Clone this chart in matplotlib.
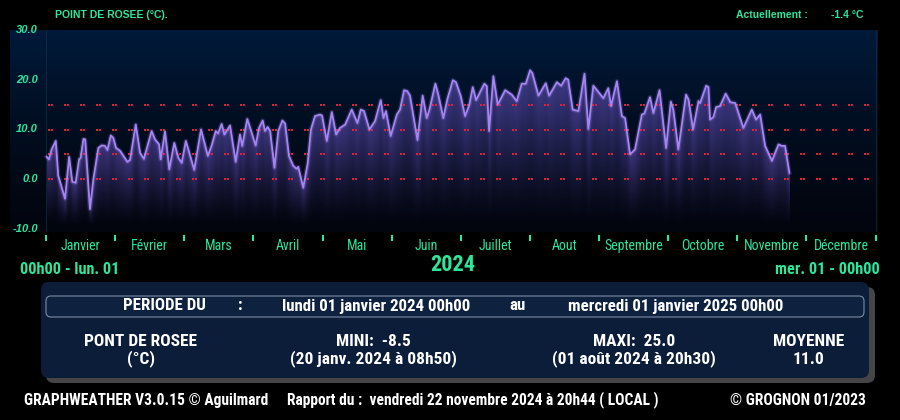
import numpy as np
import matplotlib
matplotlib.use("Agg")
import matplotlib.pyplot as plt
import matplotlib.transforms as mtransforms
from matplotlib import font_manager as fm
from matplotlib.patches import FancyBboxPatch

# ---------------- data ----------------
day = [0.3, 1.3, 2.5, 4.3, 5.4, 8.4, 10.2, 11.6, 13.1, 14.6, 15.3, 16.5, 17.3, 19.4, 20.9,
       23.1, 24.6, 26.0, 27.1, 28.6, 29.7, 30.9, 32.7, 35.9, 37.1, 39.6, 41.5, 43.2, 46.6,
       48.1, 49.9, 50.6, 52.5, 54.4, 56.6, 58.4, 59.9, 61.7, 65.4, 68.4, 71.4, 73.1, 74.9,
       75.9, 77.5, 78.7, 81.2, 83.7, 85.6, 86.6, 88.8, 90.5, 92.5, 94.0, 95.6, 96.6, 97.8,
       98.9, 100.8, 102.5, 104.3, 105.5, 107.2, 109.1, 110.6, 111.3, 113.5, 115.5, 116.9,
       118.7, 120.9, 121.8, 123.9, 126.1, 128.0, 129.7, 132.0, 134.9, 137.4, 138.9, 140.3,
       142.7, 145.2, 147.7, 148.9, 150.0, 152.1, 154.8, 156.2, 158.0, 159.4, 160.6, 163.9,
       166.2, 168.0, 169.2, 171.8, 173.1, 175.3, 177.1, 179.5, 180.9, 183.0, 184.9, 186.8,
       188.3, 189.8, 191.5, 193.4, 194.5, 195.5, 197.4, 199.3, 202.6, 205.5, 207.7, 209.9,
       211.7, 213.6, 214.6, 217.3, 220.5, 222.0, 225.4, 227.3, 229.3, 230.4, 232.4, 234.9,
       237.6, 239.3, 241.5, 245.9, 248.1, 249.3, 251.9, 254.1, 255.5, 257.7, 259.9, 262.9,
       264.0, 266.5, 268.0, 270.7, 273.6, 275.7, 276.8, 279.0, 282.4, 283.5, 285.5, 287.9,
       288.6, 291.3, 292.3, 293.0, 294.5, 295.7, 297.4, 299.9, 301.9, 304.1, 307.7, 311.4,
       313.3, 315.1, 317.3, 320.3, 323.2, 324.7, 326.1, 328.0]
dew = [4.5, 4.0, 6.0, 7.7, 0.7, -3.9, 4.5, -0.5, -0.7, 4.0, 4.3, 8.1, 8.0, -6.0, 0.0,
       6.3, 6.8, 6.7, 5.9, 8.8, 8.3, 6.3, 5.7, 3.5, 3.9, 11.0, 5.3, 4.1, 9.7,
       8.0, 7.0, 4.0, 9.6, 2.0, 7.3, 4.3, 3.3, 7.7, 1.9, 10.0, 4.7, 6.8, 9.7,
       9.2, 11.1, 9.0, 10.8, 3.5, 9.0, 6.7, 12.1, 9.7, 6.8, 10.3, 11.8, 9.7, 10.5,
       9.7, 2.3, 9.7, 11.8, 11.2, 4.7, 2.7, 2.1, 2.5, -1.7, 3.3, 10.0,
       12.7, 13.0, 12.8, 7.7, 13.5, 9.0, 10.3, 11.0, 14.0, 11.3, 14.0, 13.7,
       10.0, 11.7, 15.9, 12.3, 13.7, 8.7, 13.0, 14.0, 17.9, 17.7, 16.8, 7.9,
       16.8, 12.3, 14.0, 19.2, 17.0, 12.3, 16.1, 19.9, 19.5, 16.7, 12.7, 15.0,
       18.5, 15.9, 17.5, 19.2, 18.7, 9.7, 20.7, 15.0, 17.9, 17.0, 15.7, 19.2,
       19.2, 21.9, 21.3, 16.8, 19.3, 16.8, 19.5, 18.8, 20.3, 20.0, 14.0, 13.7,
       21.2, 10.1, 18.8, 16.3, 18.3, 14.7, 19.7, 12.7, 12.3, 5.0, 6.0, 13.0,
       13.2, 16.5, 13.3, 17.9, 6.3, 15.6, 14.0, 6.0, 17.0, 16.0, 10.0, 15.7,
       15.3, 18.8, 18.5, 12.0, 12.5, 14.5, 14.7, 17.2, 15.5, 15.3, 10.3, 14.0,
       12.0, 13.0, 6.7, 3.7, 7.0, 6.7, 6.7, 1.3]

months = ["Janvier", "Février", "Mars", "Avril", "Mai", "Juin", "Juillet", "Aout",
          "Septembre", "Octobre", "Novembre", "Décembre"]
y_ticks = [30.0, 20.0, 10.0, 0.0, -10.0]
ref_levels = [15, 10, 5, 0]
n_days = 366

# ---------------- fonts / colours ----------------
def _wnum(w):
    if isinstance(w, (int, float)):
        return w
    return {"bold": 700, "semibold": 600, "demibold": 600, "heavy": 800,
            "black": 900, "extra bold": 800}.get(str(w).lower(), 400)


def pick(cands, need_bold, default):
    for c in cands:
        ws = [_wnum(f.weight) for f in fm.fontManager.ttflist if f.name == c]
        if ws and (not need_bold or any(w >= 600 for w in ws)):
            return c
    return default


NARROW_CANDS = ["Liberation Sans Narrow", "Arial Narrow", "Roboto Condensed",
                "PT Sans Narrow", "Open Sans Condensed", "Asap Condensed",
                "Barlow Semi Condensed", "Archivo Narrow"]
NARROW = pick(NARROW_CANDS, True, "DejaVu Sans")
NARROW_R = pick(NARROW_CANDS, False, "DejaVu Sans")
REG = pick(["Liberation Sans", "Arimo"], True, "DejaVu Sans")
GREEN = "#2ee59c"
WHITE = "#ffffff"

fig = plt.figure(figsize=(9, 4.2), dpi=100, facecolor="black")

# main plot axes: pixel box x 10..878, y 30..232
ax = fig.add_axes([10 / 900, 1 - 232 / 420, 868 / 900, 202 / 420])
PX = 829.5 / n_days          # pixels per day
PY = 199.0 / 40.0            # pixels per degree
x0, x1 = -36 / PX, n_days + 2.5 / PX
y0, y1 = -10 - 3 / PY, 30.0

# background gradient
grad = np.linspace(0, 1, 256)[:, None]
top = np.array([0, 26, 58]) / 255
bot = np.array([3, 5, 14]) / 255
bg = bot + (top - bot) * grad[..., None] ** 1.3
bg = np.repeat(bg, 2, axis=1)
ax.imshow(bg, extent=[x0, x1, y0, y1], origin="lower", aspect="auto", zorder=0,
          interpolation="bilinear")

# gradient fill under the curve
day_a = np.array(day)
dew_a = np.array(dew)
xs = np.linspace(day_a[0], day_a[-1], 1400)
vs = np.interp(xs, day_a, dew_a)
ys = np.linspace(y0, y1, 500)
Y = ys[:, None]
V = vs[None, :]
ybot = -9.5
t = np.clip((Y - ybot) / (V - ybot), 0, 1)
alpha = np.where(Y <= V, 0.52 * t ** 1.3, 0.0)
rgba = np.zeros((len(ys), len(xs), 4))
rgba[..., 0] = 0.45
rgba[..., 1] = 0.35
rgba[..., 2] = 0.82
rgba[..., 3] = alpha
ax.imshow(rgba, extent=[day_a[0], day_a[-1], y0, y1], origin="lower", aspect="auto",
          zorder=1, interpolation="bilinear")

# faint vertical borders
ax.axvline(0, color="#15324a", lw=0.8, alpha=0.6, zorder=1)
ax.axvline(n_days, color="#15324a", lw=0.8, alpha=0.6, zorder=1)

# red dotted reference lines
ax.hlines(ref_levels, 2 / PX, 823 / PX, colors="#e0203c", linewidth=1.44,
          linestyles=[(0, (1, 0.5, 1, 5.5))], zorder=2)

# the curve with a soft glow
ax.plot(day_a, dew_a, color="#a27cf2", lw=3.2, alpha=0.22, zorder=3,
        solid_joinstyle="round")
ax.plot(day_a, dew_a, color="#a486f2", lw=1.3, zorder=4, solid_joinstyle="round")

ax.set_xlim(x0, x1)
ax.set_ylim(y0, y1)
ax.axis("off")

# y labels
for v in y_ticks:
    ax.text(-3.5, v, f"{v:.1f}", ha="right", va="center", color=GREEN,
            fontsize=8, fontstyle="italic", fontweight="bold", family=REG)

# month ticks and labels
blend = mtransforms.blended_transform_factory(ax.transData, ax.transAxes)
tick_pos = [i * n_days / 12 for i in range(13)]
ax.vlines(tick_pos, -3 / 202, -9 / 202, transform=blend, colors=GREEN, lw=1.5,
          clip_on=False)
for i, m in enumerate(months):
    ax.text((i + 0.5) * n_days / 12, -13.5 / 202, m, transform=blend, ha="center",
            va="center", color=GREEN, fontsize=10, family=NARROW_R, clip_on=False)

# ---------------- overlay in pixel coordinates ----------------
ov = fig.add_axes([0, 0, 1, 1], zorder=5)
ov.set_xlim(0, 900)
ov.set_ylim(420, 0)
ov.axis("off")
ov.patch.set_alpha(0)

ov.text(55, 15, "POINT DE ROSEE (°C).", color=GREEN, fontsize=7.5, fontweight="bold",
        family=REG, ha="left", va="center")
ov.text(736, 15, "Actuellement :", color=GREEN, fontsize=7.5, fontweight="bold",
        family=REG, ha="left", va="center")
ov.text(831, 15, "-1.4 °C", color=GREEN, fontsize=7.5, fontweight="bold",
        family=REG, ha="left", va="center")

ov.text(20, 269, "00h00 - lun. 01", color=GREEN, fontsize=11.7, fontweight="bold",
        family=NARROW, ha="left", va="center")
ov.text(453, 265, "2024", color=GREEN, fontsize=16, fontweight="bold",
        family=NARROW, ha="center", va="center")
ov.text(880, 269, "mer. 01 - 00h00", color=GREEN, fontsize=11.7, fontweight="bold",
        family=NARROW, ha="right", va="center")

# bottom panel
ov.add_patch(FancyBboxPatch((46, 287), 829, 96, boxstyle="round,pad=0,rounding_size=8",
                            fc="#454545", ec="none"))
ov.add_patch(FancyBboxPatch((41, 282), 828, 96, boxstyle="round,pad=0,rounding_size=8",
                            fc="#0c1d3a", ec="none"))
ov.add_patch(FancyBboxPatch((46, 296), 818, 21, boxstyle="round,pad=0,rounding_size=5",
                            fc="#0e213f", ec="#7d8ca3", lw=0.8))

fs = 12.2
ov.text(164, 306, "PERIODE DU", color=WHITE, fontsize=fs, fontweight="bold",
        family=NARROW, ha="center", va="center")
ov.text(240, 306, ":", color=WHITE, fontsize=fs, fontweight="bold",
        family=NARROW, ha="center", va="center")
ov.text(376, 306, "lundi 01 janvier 2024 00h00", color=WHITE, fontsize=fs,
        fontweight="bold", family=NARROW, ha="center", va="center")
ov.text(518, 306, "au", color=WHITE, fontsize=fs, fontweight="bold",
        family=NARROW, ha="center", va="center")
ov.text(676, 306, "mercredi 01 janvier 2025 00h00", color=WHITE, fontsize=fs,
        fontweight="bold", family=NARROW, ha="center", va="center")

fs2 = 12.5
ov.text(141, 341, "PONT DE ROSEE", color=WHITE, fontsize=fs2, fontweight="bold",
        family=NARROW, ha="center", va="center")
ov.text(141, 359, "(°C)", color=WHITE, fontsize=fs2, fontweight="bold",
        family=NARROW, ha="center", va="center")
ov.text(373, 341, "MINI:  -8.5", color=WHITE, fontsize=fs2, fontweight="bold",
        family=NARROW, ha="center", va="center")
ov.text(373, 359, "(20 janv. 2024 à 08h50)", color=WHITE, fontsize=fs2,
        fontweight="bold", family=NARROW, ha="center", va="center")
ov.text(634, 341, "MAXI:  25.0", color=WHITE, fontsize=fs2, fontweight="bold",
        family=NARROW, ha="center", va="center")
ov.text(634, 359, "(01 août 2024 à 20h30)", color=WHITE, fontsize=fs2,
        fontweight="bold", family=NARROW, ha="center", va="center")
ov.text(809, 341, "MOYENNE", color=WHITE, fontsize=fs2, fontweight="bold",
        family=NARROW, ha="center", va="center")
ov.text(809, 359, "11.0", color=WHITE, fontsize=fs2, fontweight="bold",
        family=NARROW, ha="center", va="center")

fs3 = 11.2
ov.text(24, 400, "GRAPHWEATHER V3.0.15 © Aguilmard", color=WHITE, fontsize=fs3,
        fontweight="bold", family=NARROW, ha="left", va="center")
ov.text(287, 400, "Rapport du :  vendredi 22 novembre 2024 à 20h44 ( LOCAL )",
        color=WHITE, fontsize=fs3, fontweight="bold", family=NARROW, ha="left",
        va="center")
ov.text(866, 400, "© GROGNON 01/2023", color=WHITE, fontsize=fs3, fontweight="bold",
        family=NARROW, ha="right", va="center")

fig.savefig("out.png", dpi=100, facecolor="black")
